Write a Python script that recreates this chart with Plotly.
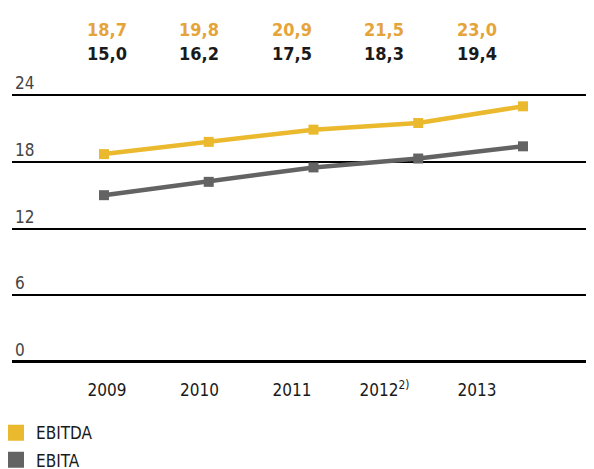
import plotly.graph_objects as go

years = ["2009", "2010", "2011", "2012<sup>2)</sup>", "2013"]
ebitda = [18.7, 19.8, 20.9, 21.5, 23.0]
ebita = [15.0, 16.2, 17.5, 18.3, 19.4]
y_ticks = [0, 6, 12, 18, 24]

YELLOW = "#EBB92E"
ORANGE = "#E5A43A"
GREY = "#636363"
FONT = "DejaVu Sans Condensed, Liberation Sans Narrow, Roboto, Arial"


def fmt(v):
    return f"{v:.1f}".replace(".", ",")


def main():
    idx = list(range(len(years)))
    fig = go.Figure()

    fig.add_trace(go.Scatter(
        x=idx, y=ebitda, xaxis="x2", mode="lines+markers",
        line=dict(color=YELLOW, width=4.5),
        marker=dict(symbol="square", size=10, color=YELLOW),
        showlegend=False, hoverinfo="skip",
    ))
    fig.add_trace(go.Scatter(
        x=idx, y=ebita, xaxis="x2", mode="lines+markers",
        line=dict(color=GREY, width=4.5),
        marker=dict(symbol="square", size=10, color=GREY),
        showlegend=False, hoverinfo="skip",
    ))

    # legend swatches
    fig.add_trace(go.Scatter(x=[None], y=[None], name="EBITDA", mode="markers",
                             legendgroup="a",
                             marker=dict(symbol="square", size=16, color=YELLOW)))
    fig.add_trace(go.Scatter(x=[None], y=[None], name="EBITA", mode="markers",
                             legendgroup="b",
                             marker=dict(symbol="square", size=16, color=GREY)))

    # values above the chart
    for i, (a, b) in enumerate(zip(ebitda, ebita)):
        fig.add_annotation(x=i, y=1.234, xref="x", yref="paper", text=fmt(a),
                           showarrow=False, yanchor="middle",
                           font=dict(family=FONT, size=18, color=ORANGE, weight="bold"))
        fig.add_annotation(x=i, y=1.147, xref="x", yref="paper", text=fmt(b),
                           showarrow=False, yanchor="middle",
                           font=dict(family=FONT, size=18, color="#1a1a1a", weight="bold"))

    # page body has an 8px margin, so shift the figure up/left by 8px;
    # extra height below keeps the legend from pushing the plot area
    fig.update_layout(
        width=586, height=480,
        margin=dict(l=4, r=0, t=85, b=124),
        paper_bgcolor="white", plot_bgcolor="white",
        font=dict(family=FONT, size=17, color="#1a1a1a"),
        showlegend=True,
        legend=dict(x=-0.007, y=-0.189, xanchor="left", yanchor="top",
                    font=dict(size=17), tracegroupgap=2,
                    itemwidth=30, indentation=-12),
        xaxis=dict(
            range=[-1.027, 5.265], tickvals=idx, ticktext=years,
            showgrid=False, zeroline=False, showline=False,
            ticks="outside", ticklen=11, tickcolor="rgba(0,0,0,0)",
            tickfont=dict(size=17), automargin=False,
        ),
        xaxis2=dict(range=[-0.878, 4.678], overlaying="x", visible=False,
                    automargin=False),
        yaxis=dict(
            range=[-0.2, 24.2], tickvals=y_ticks,
            ticklabelposition="inside top", ticklabeloverflow="allow",
            showgrid=True, gridcolor="black", gridwidth=1.5,
            zeroline=True, zerolinecolor="black", zerolinewidth=2.5,
            showline=False, tickfont=dict(size=17), automargin=False,
        ),
    )
    fig.write_html("out.html")


if __name__ == "__main__":
    main()
